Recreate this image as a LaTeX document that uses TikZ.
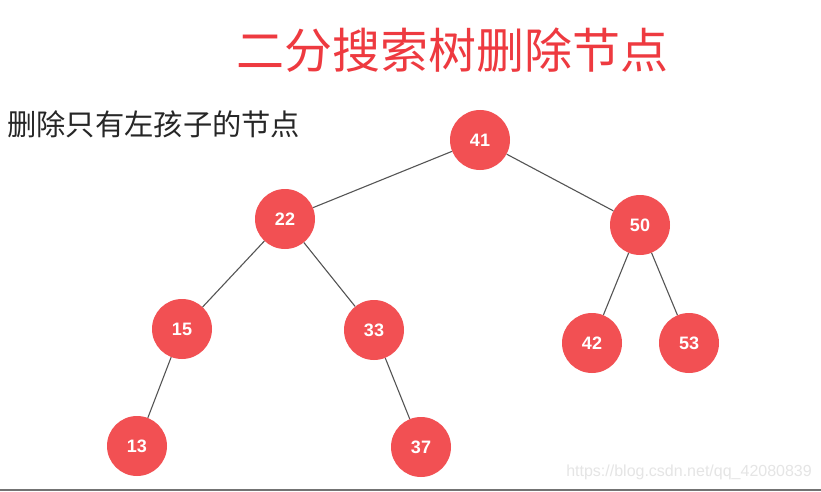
\documentclass[tikz,border=0pt]{standalone}
\usepackage{fontspec}
\setmainfont{Liberation Sans}
\newfontfamily\cjk{Noto Sans CJK SC}
\definecolor{nodered}{HTML}{F25053}
\definecolor{titlered}{HTML}{EE3A40}
\definecolor{edgegray}{HTML}{555555}
\tikzset{
  bst/.style={circle, fill=nodered, draw=none, minimum size=60pt, inner sep=0pt,
    text=white, font=\fontsize{18}{18}\selectfont\bfseries},
  edge/.style={draw=edgegray, line width=1.1pt}
}
\begin{document}
\begin{tikzpicture}[x=1pt,y=-1pt]
\useasboundingbox (0,0) rectangle (821,492);
\fill[white] (0,0) rectangle (821,492);
\node[text=titlered, font=\cjk\fontsize{48}{48}\selectfont, anchor=center] (title) at (452,50) {二分搜索树删除节点};
\node[text=black!85, font=\cjk\fontsize{29.3}{29.3}\selectfont, anchor=west, inner sep=0pt] (sub) at (7,124) {删除只有左孩子的节点};
\node[bst] (n41) at (480,140) {41};
\node[bst] (n22) at (285,219) {22};
\node[bst] (n50) at (640,225) {50};
\node[bst] (n15) at (182,329) {15};
\node[bst] (n33) at (374,330) {33};
\node[bst] (n42) at (592,343) {42};
\node[bst] (n53) at (689,343) {53};
\node[bst] (n13) at (137,446) {13};
\node[bst] (n37) at (421,447) {37};
\draw[edge] (n41) -- (n22);
\draw[edge] (n41) -- (n50);
\draw[edge] (n22) -- (n15);
\draw[edge] (n22) -- (n33);
\draw[edge] (n50) -- (n42);
\draw[edge] (n50) -- (n53);
\draw[edge] (n15) -- (n13);
\draw[edge] (n33) -- (n37);
\node[text=black!10, font=\fontsize{16}{16}\selectfont, anchor=east, inner sep=0pt] (wm) at (812,472) {https://blog.csdn.net/qq\_42080839};
\coordinate (bl) at (0,490);
\coordinate (br) at (821,490);
\draw[black!55, line width=2.5pt] (bl) -- (br);
\end{tikzpicture}
\end{document}
